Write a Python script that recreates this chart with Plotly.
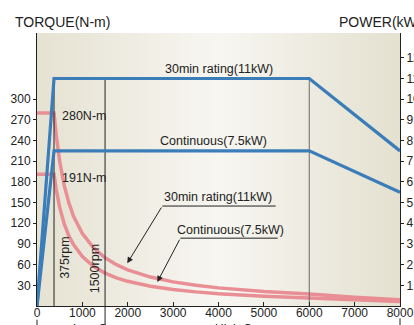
import plotly.graph_objects as go

# ---------------- data ----------------
rpm_power = [0, 375, 6000, 8000]
power_30min = [0, 11, 11, 7.5]
power_cont = [0, 7.5, 7.5, 5.5]

rpm_torque = [0, 375, 425, 500, 600, 700, 800, 1000, 1250, 1500, 1750, 2000,
              2500, 3000, 3500, 4000, 5000, 6000, 7000, 8000]
torque_30min = [280, 280, 247, 210, 175, 150, 131, 105, 84, 70, 60, 52.5,
                42, 35, 30, 26.3, 21, 17.5, 12.6, 9.0]
torque_cont = [191, 191, 168.5, 143, 119, 102, 89.5, 71.6, 57.3, 47.7, 40.9, 35.8,
               28.6, 23.9, 20.5, 17.9, 14.3, 11.9, 8.9, 6.6]

x_ticks = [0, 1000, 2000, 3000, 4000, 5000, 6000, 7000, 8000]
torque_ticks = [30, 60, 90, 120, 150, 180, 210, 240, 270, 300]
power_ticks = [1, 2, 3, 4, 5, 6, 7, 8, 9, 10, 11, 12]

marker_rpm = [375, 1500, 6000]   # vertical reference lines
marker_top_kw = 11
gear_split = 1500

X_MAX = 8000
T_MAX = 396
P_MAX = 13.2

BLUE = "#3a7db9"
PINK = "#e88e94"
TXT = "#222222"
FONT = "Liberation Sans, Arial, sans-serif"

fig = go.Figure()

# background gradient
fig.add_trace(go.Scatter(
    x=[0, X_MAX, X_MAX, 0, 0], y=[0, 0, T_MAX, T_MAX, 0],
    mode="lines", line=dict(width=0), fill="toself",
    fillgradient=dict(type="horizontal",
                      colorscale=[[0, "#e5e2d2"], [0.5, "#f7f6f1"], [1, "#e4e1d0"]]),
    hoverinfo="skip", showlegend=False))

# vertical reference lines
for r in marker_rpm:
    fig.add_trace(go.Scatter(
        x=[r, r], y=[0, marker_top_kw], yaxis="y2", mode="lines",
        line=dict(color="#6a6a6a" if r == 6000 else "#222222", width=1),
        hoverinfo="skip", showlegend=False))

# torque curves
fig.add_trace(go.Scatter(x=rpm_torque, y=torque_30min, mode="lines",
                         line=dict(color=PINK, width=3.5), showlegend=False))
fig.add_trace(go.Scatter(x=rpm_torque, y=torque_cont, mode="lines",
                         line=dict(color=PINK, width=3.5), showlegend=False))

# power curves
fig.add_trace(go.Scatter(x=rpm_power, y=power_30min, mode="lines", yaxis="y2",
                         line=dict(color=BLUE, width=3.2), showlegend=False))
fig.add_trace(go.Scatter(x=rpm_power, y=power_cont, mode="lines", yaxis="y2",
                         line=dict(color=BLUE, width=3.2), showlegend=False))

shapes = []
# gear markers below axis
for r, y0 in [(0, -0.05), (gear_split, 0.0), (X_MAX, -0.045)]:
    shapes.append(dict(type="line", xref="paper", yref="paper",
                       x0=r / X_MAX, x1=r / X_MAX, y0=y0, y1=-0.1,
                       line=dict(color="#222222", width=1)))

# leader underlines
shapes.append(dict(type="line", xref="x", yref="y", x0=2762, x1=5260, y0=145, y1=145,
                   line=dict(color="#222222", width=1)))
shapes.append(dict(type="line", xref="x", yref="y", x0=3160, x1=5304, y0=98.4, y1=98.4,
                   line=dict(color="#222222", width=1)))

f12 = dict(family=FONT, size=12, color=TXT)
f125 = dict(family=FONT, size=12.5, color=TXT)
annotations = [
    dict(text="TORQUE(N-m)", xref="paper", yref="paper", x=(112 - 37) / 363, y=1.04,
         xanchor="right", yanchor="middle", showarrow=False,
         font=dict(family=FONT, size=14, color=TXT)),
    dict(text="POWER(kW)", xref="paper", yref="paper", x=0.826, y=1.04,
         xanchor="left", yanchor="middle", showarrow=False,
         font=dict(family=FONT, size=14, color=TXT)),
    dict(text="30min rating(11kW)", xref="x", yref="y2", x=4000, y=11.45,
         showarrow=False, font=f125),
    dict(text="Continuous(7.5kW)", xref="x", yref="y2", x=3890, y=7.97,
         showarrow=False, font=f125),
    dict(text="280N-m", xref="x", yref="y", x=508, y=276, xanchor="left",
         showarrow=False, font=f125),
    dict(text="191N-m", xref="x", yref="y", x=508, y=185, xanchor="left",
         showarrow=False, font=f125),
    dict(text="375rpm", xref="x", yref="y", x=619, y=70, textangle=-90,
         showarrow=False, font=f125),
    dict(text="1500rpm", xref="x", yref="y", x=1282, y=53.5, textangle=-90,
         showarrow=False, font=f125),
    dict(text="30min rating(11kW)", xref="x", yref="y", x=3994, y=157.7,
         showarrow=False, font=f125),
    dict(text="Continuous(7.5kW)", xref="x", yref="y", x=4265, y=110,
         showarrow=False, font=f125),
    dict(text="", xref="x", yref="y", x=1989, y=62, axref="x", ayref="y",
         ax=2762, ay=145, showarrow=True, arrowhead=2, arrowsize=1.2,
         arrowwidth=1, arrowcolor="#222222", standoff=0),
    dict(text="", xref="x", yref="y", x=2652, y=34.8, axref="x", ayref="y",
         ax=3160, ay=98.4, showarrow=True, arrowhead=2, arrowsize=1.2,
         arrowwidth=1, arrowcolor="#222222", standoff=0),
    dict(text="Low Gear", xref="paper", yref="paper", x=(gear_split / X_MAX) / 2,
         y=-0.086, yanchor="middle", showarrow=False, font=f12),
    dict(text="High Gear", xref="paper", yref="paper", x=(242 - 37) / 363,
         y=-0.086, yanchor="middle", showarrow=False, font=f12),
]

axis_common = dict(tickcolor="#222222", showline=True, linecolor="#222222", linewidth=1,
                   showgrid=False, zeroline=False, automargin=False,
                   tickfont=dict(family=FONT, size=12, color=TXT))

fig.update_layout(
    width=414, height=325,
    margin=dict(l=37, r=14, t=33, b=19, autoexpand=False),
    paper_bgcolor="white", plot_bgcolor="rgba(0,0,0,0)",
    showlegend=False,
    font=dict(family=FONT, size=12, color=TXT),
    xaxis=dict(range=[0, X_MAX], tickvals=x_ticks, ticks="inside", ticklen=4,
               ticklabelstandoff=-4, **axis_common),
    yaxis=dict(range=[0, T_MAX], tickvals=torque_ticks, ticks="outside", ticklen=3,
               **axis_common),
    yaxis2=dict(range=[0, P_MAX], tickvals=power_ticks, ticks="outside", ticklen=3,
                overlaying="y", side="right", **axis_common),
    shapes=shapes,
    annotations=annotations,
)

fig.write_html("out.html")
